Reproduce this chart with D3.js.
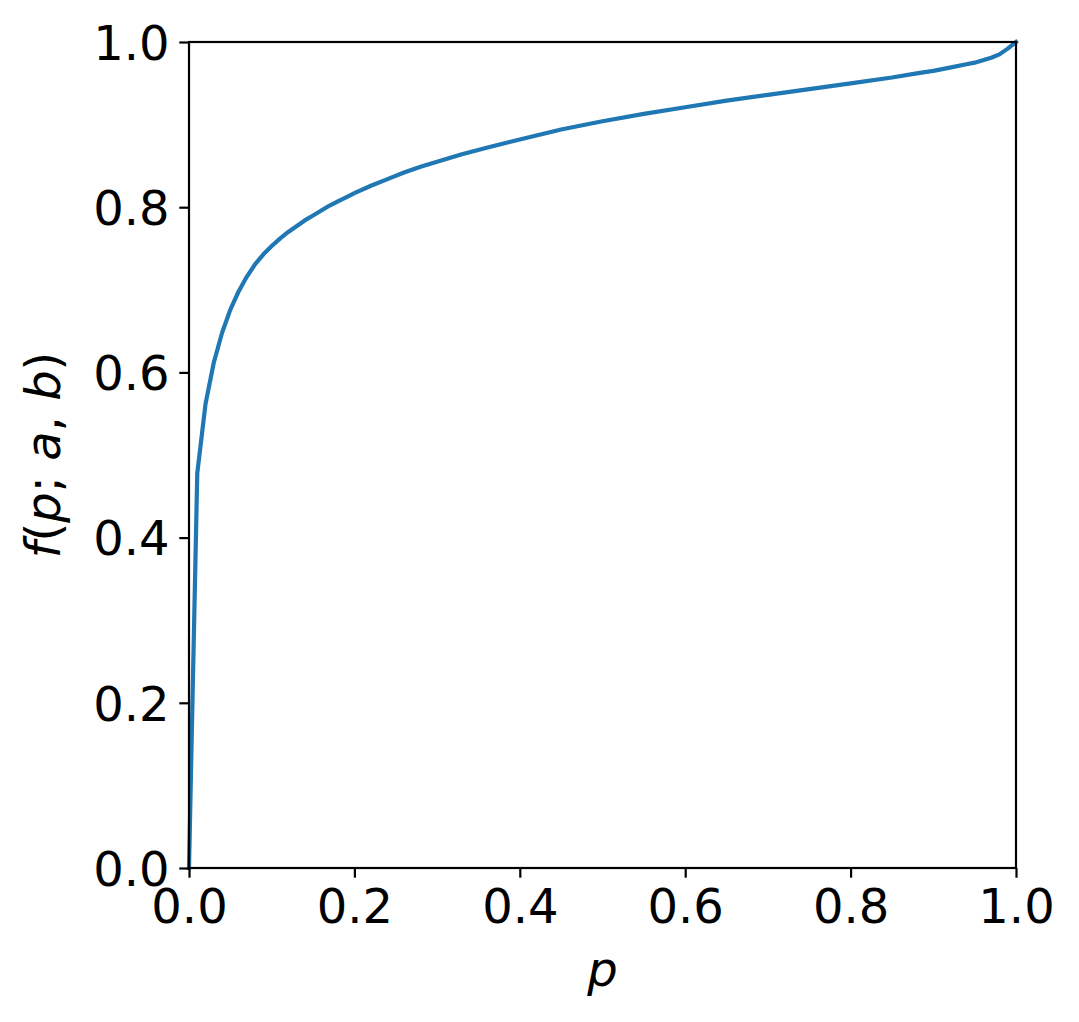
<!DOCTYPE html>
<html>
<head>
<meta charset="utf-8">
<script src="https://cdn.jsdelivr.net/npm/d3@7"></script>
<style>
  html, body { margin: 0; padding: 0; background: #fff; }
  svg { display: block; }
  text { font-family: "DejaVu Sans", sans-serif; fill: #000; }
</style>
</head>
<body>
<script>
// Data
const pValues = [0, 0.01, 0.02, 0.03, 0.04, 0.05, 0.06, 0.07, 0.08, 0.09, 0.10,
  0.11, 0.12, 0.13, 0.14, 0.15, 0.16, 0.17, 0.18, 0.19, 0.20,
  0.22, 0.24, 0.26, 0.28, 0.30, 0.33, 0.36, 0.40, 0.45, 0.50, 0.55, 0.60,
  0.65, 0.70, 0.75, 0.80, 0.85, 0.88, 0.90, 0.92, 0.94, 0.95, 0.96, 0.97, 0.98, 0.99, 1.00];
const fValues = [0, 0.478, 0.562, 0.612, 0.648, 0.676, 0.698, 0.716, 0.731, 0.743, 0.753,
  0.762, 0.770, 0.777, 0.784, 0.790, 0.796, 0.802, 0.807, 0.812, 0.817,
  0.826, 0.834, 0.842, 0.849, 0.855, 0.864, 0.872, 0.882, 0.894, 0.904, 0.913, 0.921,
  0.929, 0.936, 0.943, 0.950, 0.957, 0.962, 0.965, 0.969, 0.973, 0.975, 0.978, 0.981, 0.985, 0.992, 1.000];
const xTicks = [0, 0.2, 0.4, 0.6, 0.8, 1.0];
const yTicks = [0, 0.2, 0.4, 0.6, 0.8, 1.0];

const W = 1079, H = 1022;
const margin = { left: 189, right: 1079 - 1016, top: 42, bottom: 1022 - 868 };
const fontPx = 48;
const tickLen = 9.7, tickPad = 9.7;

const svg = d3.select("body").append("svg").attr("width", W).attr("height", H);

const x = d3.scaleLinear().domain([0, 1]).range([margin.left, W - margin.right]);
const y = d3.scaleLinear().domain([0, 1]).range([H - margin.bottom, margin.top]);

// Curve
const data = pValues.map((p, i) => ({ p, f: fValues[i] }));
svg.append("defs").append("clipPath").attr("id", "clip")
  .append("rect").attr("x", x(0) - 3).attr("y", y(1) - 3)
  .attr("width", x(1) - x(0) + 6).attr("height", y(0) - y(1) + 6);

svg.append("path")
  .datum(data)
  .attr("fill", "none")
  .attr("stroke", "#1f77b4")
  .attr("stroke-width", 4.2)
  .attr("stroke-linejoin", "round")
  .attr("stroke-linecap", "square")
  .attr("clip-path", "url(#clip)")
  .attr("d", d3.line().x(d => x(d.p)).y(d => y(d.f)));

// Axes
const fmt = d3.format(".1f");
const xAxis = d3.axisBottom(x).tickValues(xTicks).tickFormat(fmt)
  .tickSize(tickLen).tickPadding(tickPad);
const yAxis = d3.axisLeft(y).tickValues(yTicks).tickFormat(fmt)
  .tickSize(tickLen).tickPadding(tickPad);

const gx = svg.append("g").attr("transform", `translate(0,${y(0)})`).call(xAxis);
const gy = svg.append("g").attr("transform", `translate(${x(0)},0)`).call(yAxis);

[gx, gy].forEach(g => {
  g.select(".domain").remove();
  g.selectAll(".tick line").attr("stroke", "#000").attr("stroke-width", 2.2);
  g.selectAll(".tick text")
    .style("font-family", "'DejaVu Sans', sans-serif")
    .style("font-size", fontPx + "px")
    .attr("fill", "#000");
});
gx.selectAll(".tick text").attr("dy", "0.74em");
gy.selectAll(".tick text").attr("dy", "0.36em");

// Frame (spines)
svg.append("rect")
  .attr("x", x(0)).attr("y", y(1))
  .attr("width", x(1) - x(0)).attr("height", y(0) - y(1))
  .attr("fill", "none").attr("stroke", "#000").attr("stroke-width", 2.2);

// Axis labels
svg.append("text")
  .attr("x", (x(0) + x(1)) / 2).attr("y", 986)
  .attr("text-anchor", "middle")
  .style("font-size", fontPx + "px")
  .style("font-style", "italic")
  .text("p");

const yl = svg.append("text")
  .attr("transform", `translate(60,${(y(0) + y(1)) / 2}) rotate(-90)`)
  .attr("text-anchor", "middle")
  .style("font-size", fontPx + "px");
yl.append("tspan").style("font-style", "italic").text("f");
yl.append("tspan").text("(");
yl.append("tspan").style("font-style", "italic").text("p");
yl.append("tspan").text("; ");
yl.append("tspan").style("font-style", "italic").text("a");
yl.append("tspan").text(", ");
yl.append("tspan").style("font-style", "italic").text("b");
yl.append("tspan").text(")");
</script>
</body>
</html>
